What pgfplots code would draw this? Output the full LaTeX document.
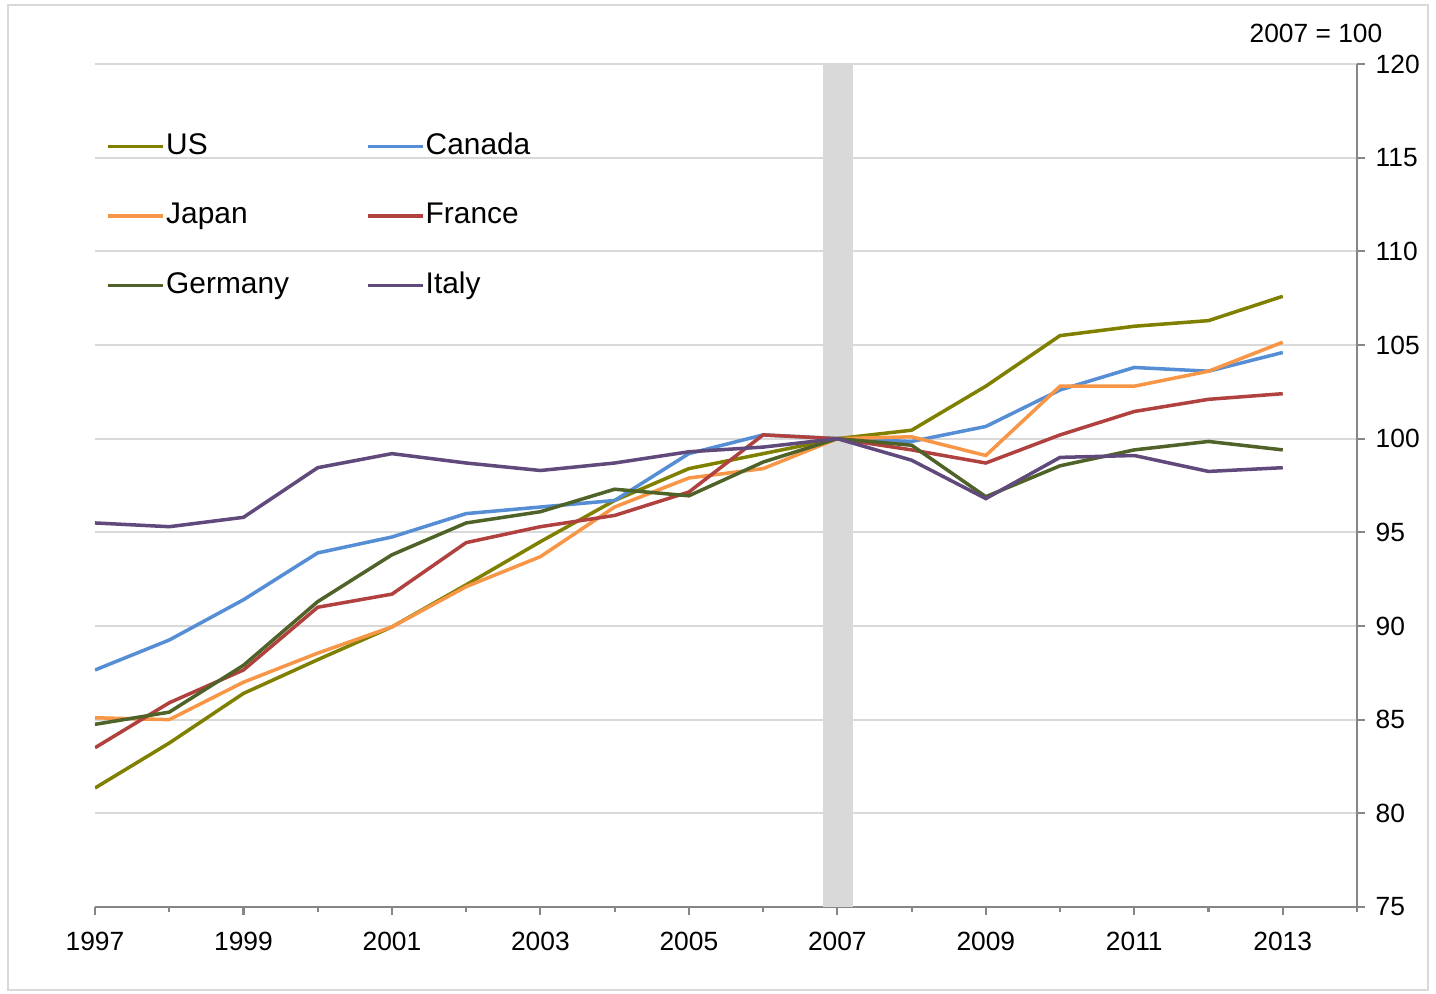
\documentclass[border=0pt]{standalone}
\usepackage{fontspec}
\setmainfont{Liberation Sans}
\usepackage{pgfplots}
\pgfplotsset{compat=1.18}
\definecolor{cUS}{HTML}{808000}
\definecolor{cCA}{HTML}{558ED5}
\definecolor{cJP}{HTML}{F79646}
\definecolor{cFR}{HTML}{B0413E}
\definecolor{cDE}{HTML}{4F6228}
\definecolor{cIT}{HTML}{604A7B}
\definecolor{gridc}{HTML}{D9D9D9}
\definecolor{axc}{HTML}{868686}
\begin{document}
\begin{tikzpicture}
\useasboundingbox (-0.95cm,-0.87cm) rectangle (13.41cm,9.07cm);
\draw[gridc, line width=0.6pt] (-0.87cm,-0.83cm) rectangle (13.33cm,9.02cm);
\begin{axis}[
  at={(0,0)}, anchor=south west, scale only axis,
  width=12.62cm, height=8.43cm,
  xmin=1997, xmax=2014, ymin=75, ymax=120,
  clip mode=individual,
  axis x line*=bottom, axis y line*=right,
  axis line style={axc, line width=0.6pt},
  xtick={1997,1999,...,2013},
  minor xtick={1998,2000,...,2014},
  ytick={75,80,...,120},
  tick align=outside,
  major tick length=0.8mm, minor tick length=0.5mm,
  tick style={axc, line width=0.6pt},
  ymajorgrids, grid style={gridc, line width=0.6pt},
  /pgf/number format/assume math mode=true,
  /pgf/number format/1000 sep={},
  xticklabel style={font=\fontsize{7.5}{9}\selectfont, inner sep=0pt, yshift=-1.6mm},
  yticklabel style={font=\fontsize{7.5}{9}\selectfont, anchor=west, inner sep=0pt, xshift=1.0mm},
  legend columns=2,
  legend cell align=left,
  legend style={draw=none, fill=none, at={(0.0087,0.92)}, anchor=north west,
    font=\fontsize{8.5}{10}\selectfont, inner sep=0pt, row sep=4.1mm,
    nodes={inner sep=0.3pt},
    /tikz/every even column/.append style={column sep=7.6mm}},
  legend image code/.code={\draw[#1] (0cm,0cm) -- (0.55cm,0cm);},
]
\fill[gridc] (axis cs:2006.81,75) rectangle (axis cs:2007.21,120);
\addplot[cUS, line width=1pt] coordinates {
(1997,81.35) (1998,83.75) (1999,86.4) (2000,88.2) (2001,89.95) (2002,92.2) (2003,94.5) (2004,96.7) (2005,98.4) (2006,99.2) (2007,100) (2008,100.45) (2009,102.8) (2010,105.5) (2011,106.0) (2012,106.3) (2013,107.6)};
\addlegendentry{US}
\addplot[cCA, line width=1pt] coordinates {
(1997,87.65) (1998,89.25) (1999,91.4) (2000,93.9) (2001,94.75) (2002,96.0) (2003,96.35) (2004,96.7) (2005,99.2) (2006,100.2) (2007,100) (2008,99.85) (2009,100.65) (2010,102.6) (2011,103.8) (2012,103.6) (2013,104.6)};
\addlegendentry{Canada}
\addplot[cJP, line width=1pt] coordinates {
(1997,85.1) (1998,85.0) (1999,87.0) (2000,88.55) (2001,89.95) (2002,92.1) (2003,93.7) (2004,96.35) (2005,97.9) (2006,98.4) (2007,100) (2008,100.1) (2009,99.1) (2010,102.8) (2011,102.8) (2012,103.6) (2013,105.15)};
\addlegendentry{Japan}
\addplot[cFR, line width=1pt] coordinates {
(1997,83.5) (1998,85.9) (1999,87.65) (2000,91.0) (2001,91.7) (2002,94.45) (2003,95.3) (2004,95.9) (2005,97.15) (2006,100.2) (2007,100) (2008,99.4) (2009,98.7) (2010,100.2) (2011,101.45) (2012,102.1) (2013,102.4)};
\addlegendentry{France}
\addplot[cDE, line width=1pt] coordinates {
(1997,84.75) (1998,85.4) (1999,87.9) (2000,91.3) (2001,93.8) (2002,95.5) (2003,96.1) (2004,97.3) (2005,96.95) (2006,98.75) (2007,100) (2008,99.65) (2009,96.9) (2010,98.55) (2011,99.4) (2012,99.85) (2013,99.4)};
\addlegendentry{Germany}
\addplot[cIT, line width=1pt] coordinates {
(1997,95.5) (1998,95.3) (1999,95.8) (2000,98.45) (2001,99.2) (2002,98.7) (2003,98.3) (2004,98.7) (2005,99.3) (2006,99.55) (2007,100) (2008,98.85) (2009,96.8) (2010,99.0) (2011,99.1) (2012,98.25) (2013,98.45)};
\addlegendentry{Italy}
\node[anchor=east, font=\fontsize{7.5}{9}\selectfont, inner sep=0pt] at ([xshift=2.6mm, yshift=3.1mm]rel axis cs:1,1) {2007 = 100};
\end{axis}
\end{tikzpicture}
\end{document}
